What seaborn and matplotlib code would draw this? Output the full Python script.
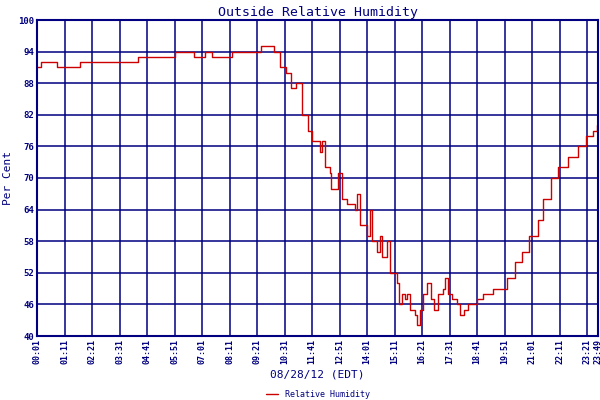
import matplotlib
matplotlib.use("Agg")
import matplotlib.pyplot as plt
import seaborn as sns
import pandas as pd

minutes = [1, 10, 51, 110, 258, 353, 399, 427, 447, 498, 570, 601, 605, 620, 635, 648, 660, 674, 690, 700,
           720, 725, 733, 746, 750, 766, 776, 789, 802, 809, 815, 822, 840, 848, 853, 866, 874, 878, 891, 899,
           909, 917, 922, 930, 937, 942, 950, 963, 968, 975, 983, 993, 1003, 1011, 1021, 1034, 1039, 1047, 1057, 1070,
           1078, 1088, 1098, 1109, 1121, 1135, 1147, 1160, 1178, 1198, 1216, 1236, 1254, 1275, 1288, 1308, 1326, 1351, 1377, 1397,
           1415, 1425, 1429]
humidity = [91, 92, 91, 92, 93, 94, 93, 94, 93, 94, 95, 95, 94, 91, 90, 87, 88, 82, 79, 77,
            75, 77, 72, 71, 68, 71, 66, 65, 65, 64, 67, 61, 59, 64, 58, 56, 59, 55, 58, 52,
            52, 50, 46, 48, 47, 48, 45, 44, 42, 45, 48, 50, 47, 45, 48, 49, 51, 48, 47, 46,
            44, 45, 46, 46, 47, 48, 48, 49, 49, 51, 54, 56, 59, 62, 66, 70, 72, 74, 76, 78,
            79, 80, 80]
tick_minutes = [1 + 70 * i for i in range(21)] + [1429]
tick_labels = ["00:01", "01:11", "02:21", "03:31", "04:41", "05:51", "07:01", "08:11", "09:21", "10:31",
               "11:41", "12:51", "14:01", "15:11", "16:21", "17:31", "18:41", "19:51", "21:01", "22:11",
               "23:21", "23:49"]
y_ticks = list(range(40, 101, 6))

df = pd.DataFrame({"minute": minutes, "Relative Humidity": humidity})
navy = "#000080"
sns.set_style("white")
plt.rcParams["font.family"] = ["DejaVu Sans Mono", "DejaVu Sans"]

fig = plt.figure(figsize=(6, 4), dpi=100)
ax = fig.add_axes([0.062, 0.16, 0.935, 0.79])
sns.lineplot(data=df, x="minute", y="Relative Humidity", ax=ax, color="#cc0000",
             drawstyle="steps-post", linewidth=1, label="Relative Humidity", legend=False)
ax.set_xlim(1, 1429)
ax.set_ylim(40, 100)
ax.set_xticks(tick_minutes)
ax.set_xticklabels(tick_labels, rotation=90, fontsize=6, color=navy, fontweight="bold")
ax.set_yticks(y_ticks)
ax.set_yticklabels([str(v) for v in y_ticks], fontsize=6.5, color=navy, fontweight="bold")
ax.grid(True, color=navy, linewidth=1.1)
ax.set_axisbelow(True)
for s in ax.spines.values():
    s.set_color(navy); s.set_linewidth(1.5)
ax.tick_params(length=0, pad=2)
ax.set_title("Outside Relative Humidity", color=navy, fontsize=9.5, pad=3)
ax.set_ylabel("Per Cent", color=navy, fontsize=8)
ax.set_xlabel("08/28/12 (EDT)", color=navy, fontsize=8, labelpad=4)
ax.legend(loc="center", bbox_to_anchor=(0.5, -0.185), frameon=False, fontsize=6,
          labelcolor=navy, handlelength=1.5, borderpad=0.1)
fig.savefig("out.png", facecolor="white")
